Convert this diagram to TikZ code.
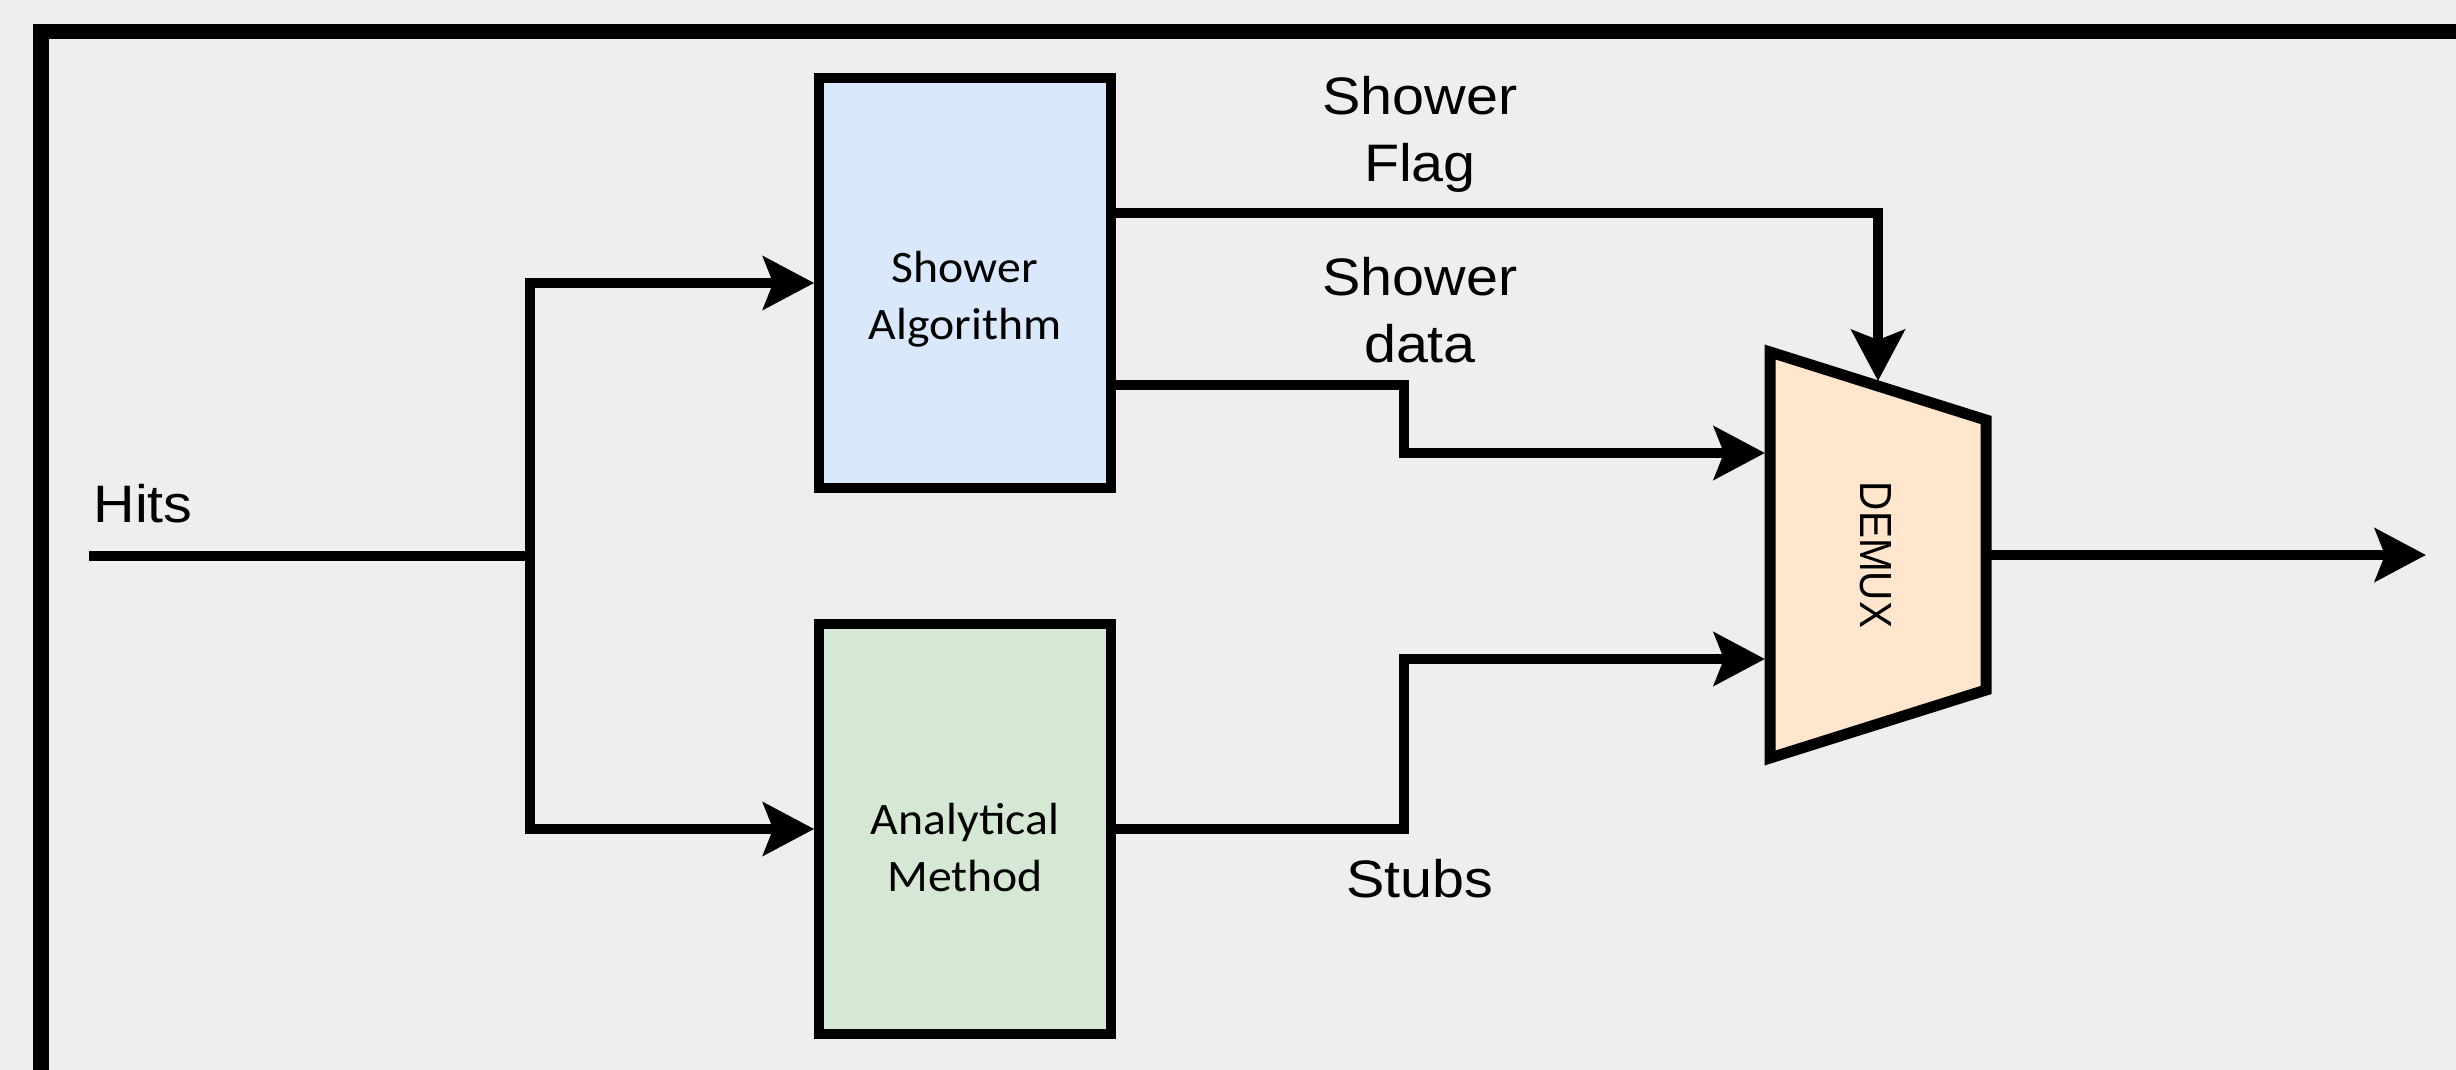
\documentclass[tikz,border=0pt]{standalone}
\usepackage{fontspec}
\newfontfamily\labfont[FakeStretch=1.09]{Liberation Sans}
\newfontfamily\boxfont[FakeStretch=1.06]{Carlito}
\newfontfamily\demuxfont[FakeStretch=0.9]{Liberation Sans}
\usetikzlibrary{arrows.meta,calc}
\definecolor{bgc}{HTML}{EEEEEE}
\definecolor{blueb}{HTML}{DAE8FC}
\definecolor{greenb}{HTML}{D5E8D4}
\definecolor{orangeb}{HTML}{FFE6CC}
\begin{document}
\begin{tikzpicture}[x=0.01cm,y=-0.01cm,
  wire/.style={line width=0.1cm, line join=miter},
  arr/.style={wire, -{Stealth[length=0.51cm,width=0.53cm,inset=0.1cm]}},
  block/.style={draw, line width=0.095cm, minimum width=2.92cm, minimum height=4.1cm, inner sep=0pt},
  lab/.style={font=\labfont\fontsize{15pt}{19pt}\selectfont, align=center, inner sep=0pt},
  btxt/.style={font=\boxfont\fontsize{12.8pt}{16.2pt}\selectfont, align=center, inner sep=0pt}]
\useasboundingbox (0,0) rectangle (2456,1070);
\fill[bgc] (0,0) rectangle (2456,1070);
% frame
\draw[line width=0.155cm, line join=miter] (41,1070) -- (41,31.5) -- (2456,31.5);
% blocks
\node[block, fill=blueb] (sa) at (965,283) {};
\node[btxt] (satext) at (965,299) {Shower\\Algorithm};
\node[block, fill=greenb] (am) at (965,829) {};
\node[btxt] (amtext) at (965,848) {Analytical\\Method};
% demux
\coordinate (t1) at (1770,352);
\coordinate (t2) at (1986,420);
\coordinate (t3) at (1986,690);
\coordinate (t4) at (1770,758);
\draw[line width=0.11cm, fill=orangeb, line join=miter] (t1) -- (t2) -- (t3) -- (t4) -- cycle;
\node[rotate=-90, font=\demuxfont\fontsize{12.8pt}{15pt}\selectfont, inner sep=0pt] (demux) at (1876,555) {DEMUX};
\coordinate (dflag) at (1878,381);
\coordinate (din1) at (1765,453);
\coordinate (din2) at (1765,659);
\coordinate (dout) at (1986,555);
\coordinate (out) at (2426,555);
% input
\coordinate (hin) at (89,556);
\coordinate (split) at (530,556);
\draw[wire] (hin) -- (split);
\draw[arr] (split) |- (sa.west);
\draw[arr] (split) |- (am.west);
% connectors to demux
\draw[arr] ($(sa.east)+(0,-70)$) -| (dflag);
\draw[arr] ($(sa.east)+(0,102)$) -- ++(288,0) |- (din1);
\draw[arr] (am.east) -- ++(288,0) |- (din2);
\draw[arr] (dout) -- (out);
% labels
\node[lab, anchor=base west] (hits) at (93,523) {Hits};
\node[lab] (flag) at (1420,134) {Shower\\Flag};
\node[lab] (sdata) at (1420,310) {Shower\\data};
\node[lab, anchor=base] (stubs) at (1420,897) {Stubs};
\end{tikzpicture}
\end{document}
